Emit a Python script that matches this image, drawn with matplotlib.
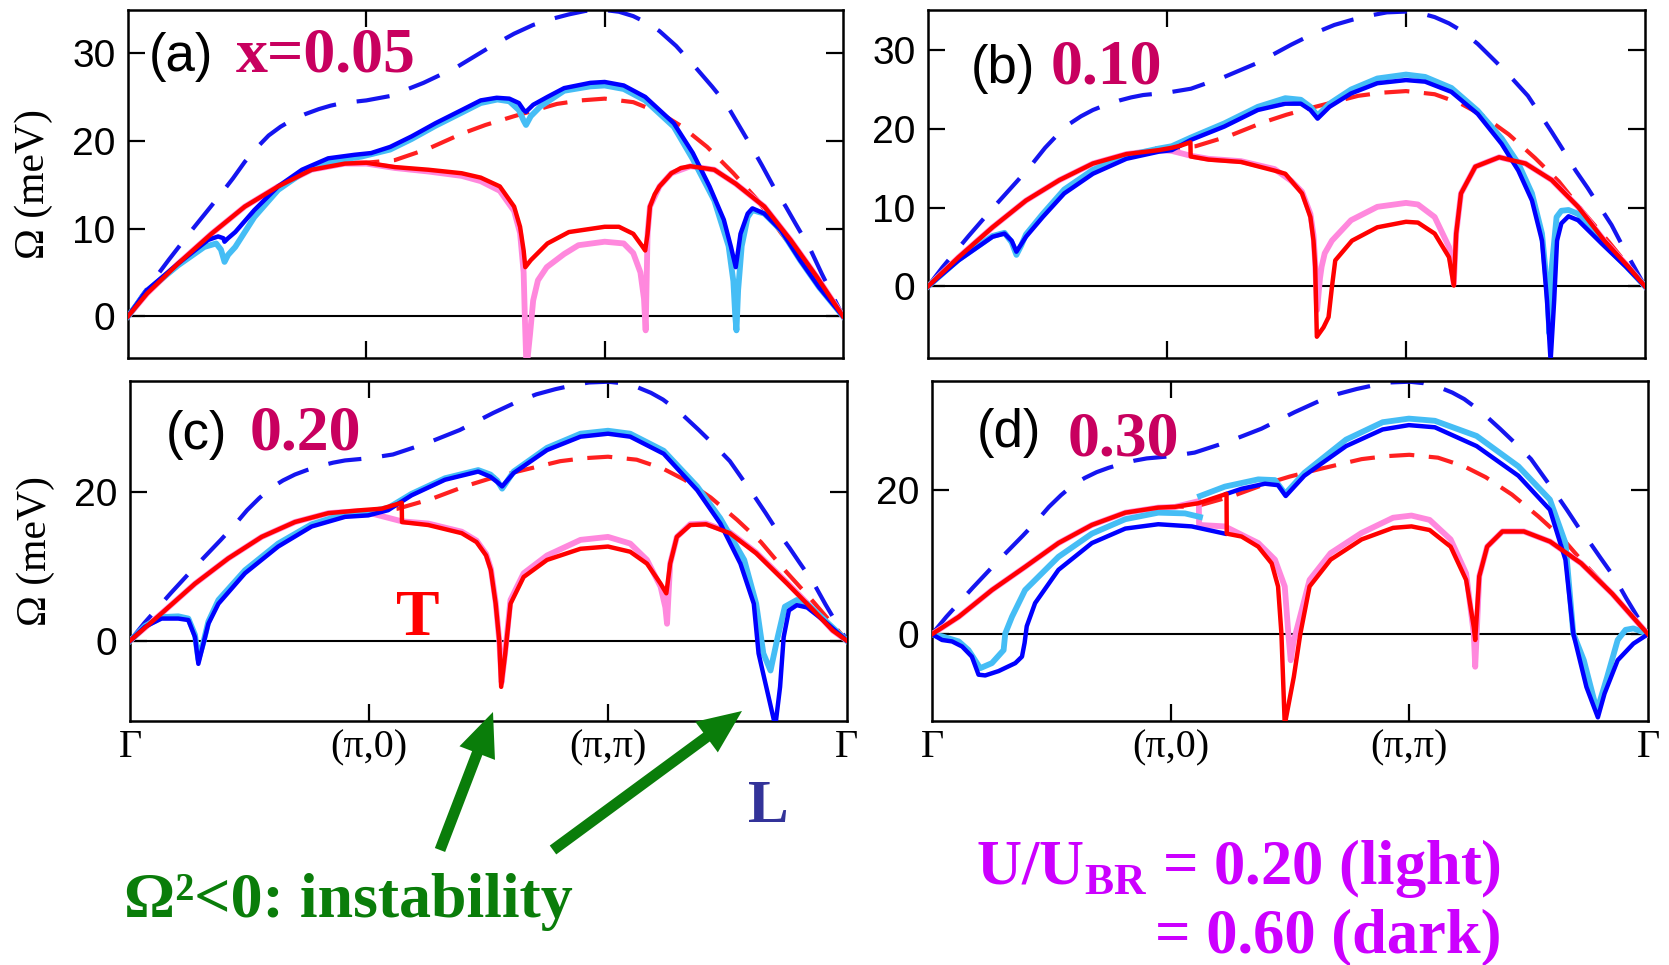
import numpy as np
import matplotlib
matplotlib.use("Agg")
import matplotlib.pyplot as plt
from matplotlib.patches import FancyArrow
from matplotlib.transforms import IdentityTransform

plt.rcParams['font.family'] = ['Liberation Sans', 'DejaVu Sans']

# path Gamma -> (pi,0) -> (pi,pi) -> Gamma, one unit per leg
q_ticks = [0, 1, 2, 3]
q_labels = ['Γ', '(π,0)', '(π,π)', 'Γ']

# bare dispersions (dashed), the same in every panel
bare_L_q = [0, 0.06, 0.17, 0.27, 0.38, 0.44, 0.49, 0.54, 0.59, 0.64, 0.69, 0.74, 0.80, 0.85, 0.90,
            1.0, 1.10, 1.24, 1.38, 1.52, 1.62, 1.70, 1.78, 1.85, 1.92, 2.0, 2.06, 2.12, 2.18,
            2.23, 2.30, 2.38, 2.45, 2.51, 2.56, 2.61, 2.66, 2.71, 2.76, 2.80, 2.86, 2.91, 3.0]
bare_L_w = [0, 2.4, 6.4, 9.9, 13.6, 15.7, 17.6, 19.2, 20.6, 21.6, 22.4, 23.0, 23.6, 24.0, 24.3,
            24.6, 25.1, 26.6, 28.4, 30.7, 32.2, 33.2, 33.9, 34.4, 34.8, 34.9, 34.7, 34.2, 33.4,
            32.5, 30.8, 28.4, 26.2, 24.2, 21.9, 19.6, 17.2, 14.7, 12.5, 10.6, 7.8, 4.9, 0]
bare_T_q = [0.95, 1.0, 1.12, 1.26, 1.40, 1.50, 1.62, 1.80, 1.90, 2.0, 2.12, 2.23, 2.32, 2.43, 2.54,
            2.64, 2.74, 2.85, 2.93, 3.0]
bare_T_w = [17.5, 17.5, 17.8, 19.1, 20.8, 21.8, 22.8, 24.2, 24.6, 24.8, 24.4, 23.2, 21.7, 19.3, 16.3,
            13.3, 9.5, 5.6, 2.6, 0]

# (a) x = 0.05
a_T_dark_q = [0, 0.08, 0.21, 0.35, 0.49, 0.63, 0.77, 0.91, 1.0, 1.12, 1.26, 1.40, 1.48, 1.56, 1.62,
              1.645, 1.66, 1.667, 1.69, 1.76, 1.85, 2.0, 2.06, 2.12, 2.16, 2.17, 2.18, 2.19, 2.21,
              2.23, 2.28, 2.32, 2.36, 2.46, 2.55, 2.67, 2.78, 2.89, 3.0]
a_T_dark_w = [0, 2.6, 6.0, 9.4, 12.5, 14.8, 16.7, 17.4, 17.5, 17.0, 16.7, 16.3, 15.8, 14.8, 12.5,
              10.2, 7.5, 5.6, 6.4, 8.3, 9.6, 10.2, 10.2, 9.4, 7.9, 7.5, 9.4, 12.5, 13.9,
              14.8, 16.3, 16.9, 17.1, 16.7, 15.1, 12.5, 8.7, 4.5, 0]
a_T_light_q = [0, 0.08, 0.21, 0.35, 0.49, 0.63, 0.77, 0.91, 1.0, 1.12, 1.26, 1.40, 1.48, 1.56, 1.62,
               1.645, 1.66, 1.665, 1.672, 1.687, 1.70, 1.72, 1.757, 1.83, 1.89, 2.0, 2.08, 2.12,
               2.15, 2.165, 2.172, 2.18, 2.19, 2.23, 2.28, 2.36, 2.46, 2.55, 2.67, 2.78, 2.89, 3.0]
a_T_light_w = [0, 2.6, 6.0, 9.4, 12.5, 14.8, 16.7, 17.4, 17.4, 16.9, 16.5, 16.0, 15.4, 14.3, 12.0,
               9.5, 5.0, 0.0, -6.0, -2.0, 1.8, 4.1, 5.6, 7.1, 8.1, 8.5, 8.3, 7.2,
               5.0, 2.0, -1.6, 9.4, 12.5, 14.8, 16.3, 17.1, 16.7, 15.1, 12.5, 8.7, 4.5, 0]
a_L_dark_q = [0, 0.08, 0.21, 0.336, 0.378, 0.40, 0.405, 0.42, 0.45, 0.53, 0.63, 0.73, 0.84, 0.95,
              1.02, 1.10, 1.19, 1.29, 1.40, 1.48, 1.547, 1.60, 1.64, 1.66, 1.67, 1.70, 1.76, 1.83,
              1.94, 2.0, 2.08, 2.17, 2.29, 2.37, 2.44, 2.50, 2.53, 2.55, 2.57, 2.60, 2.62, 2.67,
              2.74, 2.82, 2.90, 3.0]
a_L_dark_w = [0, 3.0, 6.0, 8.7, 9.1, 8.9, 8.5, 8.9, 9.6, 12.1, 14.8, 16.7, 18.0, 18.4,
              18.6, 19.3, 20.5, 22.0, 23.5, 24.6, 24.9, 24.8, 24.3, 23.5, 23.3, 24.1, 25.0, 26.0,
              26.6, 26.7, 26.3, 25.0, 22.0, 18.6, 14.8, 11.0, 7.9, 5.6, 9.4, 11.7, 12.3, 11.7,
              9.8, 6.4, 3.3, 0]
a_L_light_q = [0, 0.08, 0.21, 0.32, 0.37, 0.39, 0.405, 0.42, 0.45, 0.53, 0.63, 0.73, 0.84, 0.98,
               1.10, 1.19, 1.29, 1.40, 1.48, 1.55, 1.60, 1.64, 1.66, 1.67, 1.69, 1.73, 1.83, 1.94,
               2.0, 2.08, 2.17, 2.29, 2.37, 2.46, 2.52, 2.54, 2.548, 2.553, 2.56, 2.575, 2.60,
               2.62, 2.67, 2.74, 2.82, 2.90, 3.0]
a_L_light_w = [0, 2.9, 5.8, 7.9, 8.3, 7.6, 6.2, 7.0, 7.9, 11.3, 14.4, 16.3, 17.6, 18.2,
               19.0, 20.2, 21.7, 23.2, 24.3, 24.7, 24.5, 23.5, 22.3, 21.8, 22.8, 23.9, 25.7, 26.2,
               26.3, 25.9, 24.6, 21.6, 17.9, 13.2, 8.0, 4.0, 0.0, -1.6, 3.0, 8.0, 11.3,
               12.1, 11.7, 9.8, 6.4, 3.3, 0]

# (b) x = 0.10
b_T_dark_q = [0, 0.128, 0.27, 0.41, 0.55, 0.69, 0.83, 0.965, 1.02, 1.06, 1.098, 1.099, 1.174, 1.31,
              1.45, 1.495, 1.565, 1.60, 1.613, 1.62, 1.627, 1.655, 1.676, 1.69, 1.704, 1.774, 1.88,
              2.0, 2.05, 2.12, 2.18, 2.20, 2.21, 2.23, 2.29, 2.39, 2.50, 2.61, 2.72, 2.83, 2.93, 3.0]
b_T_dark_w = [0, 3.7, 7.5, 10.9, 13.5, 15.6, 16.8, 17.3, 17.6, 17.9, 18.3, 16.5, 16.1, 15.8,
              14.7, 14.3, 11.8, 8.8, 5.8, 2.5, -6.4, -5.2, -3.9, -0.1, 3.3, 5.8, 7.5,
              8.2, 8.1, 6.7, 3.7, 0.1, 6.7, 11.8, 15.2, 16.4, 15.6, 13.5, 10.1, 5.8, 2.5, 0]
b_T_light_q = [0, 0.128, 0.27, 0.41, 0.55, 0.69, 0.83, 0.965, 1.02, 1.06, 1.098, 1.174, 1.31, 1.45,
               1.52, 1.565, 1.60, 1.613, 1.62, 1.628, 1.64, 1.647, 1.66, 1.69, 1.77, 1.88, 2.0,
               2.05, 2.12, 2.18, 2.20, 2.21, 2.23, 2.29, 2.39, 2.50, 2.61, 2.72, 2.83, 2.93, 3.0]
b_T_light_w = [0, 3.7, 7.5, 10.9, 13.5, 15.6, 16.8, 17.3, 17.2, 16.9, 16.6, 16.2, 15.9, 14.9,
               13.4, 12.0, 9.2, 6.5, 3.0, -3.0, 1.0, 2.5, 4.2, 5.8, 8.4, 10.1, 10.6,
               10.4, 8.8, 5.0, 0.3, 6.7, 11.8, 15.2, 16.4, 15.6, 13.5, 10.1, 5.8, 2.5, 0]
b_L_dark_q = [0, 0.128, 0.27, 0.32, 0.35, 0.37, 0.41, 0.48, 0.57, 0.69, 0.83, 0.965, 1.02, 1.10,
              1.24, 1.38, 1.495, 1.56, 1.60, 1.63, 1.68, 1.77, 1.88, 2.0, 2.08, 2.19, 2.30, 2.40,
              2.47, 2.527, 2.569, 2.59, 2.605, 2.62, 2.632, 2.65, 2.68, 2.72, 2.82, 2.92, 3.0]
b_L_dark_w = [0, 3.3, 6.3, 6.7, 5.8, 4.4, 6.3, 8.8, 11.8, 14.3, 16.2, 17.1, 17.3, 18.6,
              20.3, 22.4, 23.2, 23.2, 22.4, 21.3, 22.8, 24.5, 25.8, 26.2, 26.0, 24.7, 21.9, 18.1,
              14.7, 10.9, 5.8, -1.8, -9.5, -1.8, 5.8, 8.0, 8.9, 8.4, 5.4, 2.5, 0]
b_L_light_q = [0, 0.128, 0.27, 0.32, 0.35, 0.37, 0.39, 0.41, 0.48, 0.57, 0.69, 0.83, 0.965, 1.02,
               1.10, 1.24, 1.38, 1.495, 1.56, 1.60, 1.63, 1.68, 1.77, 1.88, 2.0, 2.08, 2.19, 2.30,
               2.40, 2.47, 2.527, 2.569, 2.59, 2.60, 2.61, 2.63, 2.65, 2.68, 2.72, 2.82, 2.92, 3.0]
b_L_light_w = [0, 3.4, 6.4, 6.8, 5.6, 4.0, 5.2, 6.6, 9.2, 12.3, 14.8, 16.6, 17.5, 17.8,
               18.9, 20.7, 22.8, 23.9, 23.7, 22.8, 21.7, 23.2, 25.0, 26.4, 26.9, 26.6, 25.2, 22.3,
               18.8, 15.6, 11.8, 6.7, 0.0, -6.0, 2.5, 8.8, 9.6, 9.7, 9.2, 5.6, 2.6, 0]

# (c) x = 0.20
c_T_dark_q = [0, 0.132, 0.272, 0.411, 0.551, 0.69, 0.83, 0.969, 1.053, 1.137, 1.138, 1.248, 1.388,
              1.45, 1.49, 1.51, 1.53, 1.545, 1.553, 1.57, 1.592, 1.647, 1.745, 1.885, 2.0, 2.093,
              2.163, 2.22, 2.244, 2.26, 2.288, 2.344, 2.41, 2.51, 2.62, 2.75, 2.86, 2.94, 3.0]
c_T_dark_w = [0, 3.7, 7.7, 11.1, 14.0, 16.0, 17.2, 17.6, 17.8, 18.6, 16.0, 15.6, 14.5,
              13.3, 11.5, 9.5, 5.0, 0.0, -6.2, -1.7, 5.0, 8.6, 10.9, 12.4, 12.7, 12.0,
              10.4, 7.7, 6.4, 10.4, 14.0, 15.6, 15.7, 14.5, 11.8, 7.7, 4.1, 1.4, 0]
c_T_light_q = [0, 0.132, 0.272, 0.411, 0.551, 0.69, 0.83, 0.969, 1.053, 1.137, 1.248, 1.388, 1.45,
               1.49, 1.51, 1.53, 1.545, 1.555, 1.57, 1.592, 1.647, 1.745, 1.885, 2.0, 2.093, 2.163,
               2.22, 2.24, 2.247, 2.26, 2.288, 2.344, 2.41, 2.51, 2.62, 2.75, 2.86, 2.94, 3.0]
c_T_light_w = [0, 3.7, 7.7, 11.1, 14.0, 16.0, 17.2, 17.5, 16.8, 16.1, 15.8, 14.7, 13.5,
               11.7, 9.7, 5.2, 0.0, -5.6, -1.5, 5.5, 9.1, 11.5, 13.6, 14.0, 13.1, 10.9,
               7.3, 4.5, 2.3, 10.4, 14.0, 15.7, 15.8, 14.6, 11.9, 7.8, 4.2, 1.4, 0]
c_L_dark_q = [0, 0.063, 0.132, 0.202, 0.244, 0.272, 0.286, 0.307, 0.328, 0.37, 0.481, 0.62, 0.76,
              0.90, 0.997, 1.08, 1.178, 1.318, 1.457, 1.508, 1.536, 1.557, 1.605, 1.745, 1.885,
              2.0, 2.093, 2.233, 2.373, 2.47, 2.554, 2.61, 2.63, 2.665, 2.70, 2.72, 2.735, 2.757,
              2.79, 2.833, 2.90, 3.0]
c_L_dark_w = [0, 1.9, 3.0, 3.0, 2.8, 0.5, -3.1, -0.4, 2.3, 5.0, 9.1, 12.7, 15.4,
              16.7, 16.9, 17.6, 19.6, 21.7, 22.8, 22.1, 21.4, 20.8, 22.6, 25.7, 27.5,
              27.9, 27.5, 25.2, 20.3, 15.8, 10.4, 5.0, -1.7, -6.6, -11.5, -6.2, 0.5, 4.1,
              4.8, 4.5, 2.8, 0]
c_L_light_q = [0, 0.063, 0.132, 0.202, 0.244, 0.272, 0.286, 0.307, 0.328, 0.37, 0.481, 0.62, 0.76,
               0.90, 0.997, 1.08, 1.178, 1.318, 1.457, 1.508, 1.536, 1.557, 1.605, 1.745, 1.885,
               2.0, 2.093, 2.233, 2.373, 2.47, 2.57, 2.62, 2.65, 2.68, 2.71, 2.74, 2.79, 2.833,
               2.90, 3.0]
c_L_light_w = [0, 2.0, 3.2, 3.3, 3.0, 0.8, -2.5, -0.2, 2.6, 5.5, 9.5, 13.1, 15.7,
               17.1, 17.4, 17.9, 19.8, 21.9, 23.0, 22.4, 21.6, 20.5, 22.8, 26.0, 27.9,
               28.3, 27.9, 25.6, 20.8, 16.5, 10.9, 5.0, -1.7, -4.0, 0.5, 4.6, 5.5, 5.0,
               3.0, 0]

# (d) x = 0.30 -- L branches are split where they hand over to T
d_T_dark_q = [0, 0.112, 0.251, 0.39, 0.53, 0.67, 0.81, 0.948, 1.018, 1.116, 1.234, 1.235, 1.297,
              1.367, 1.423, 1.45, 1.464, 1.478, 1.516, 1.543, 1.582, 1.67, 1.80, 1.932, 2.009,
              2.085, 2.173, 2.238, 2.27, 2.276, 2.293, 2.326, 2.39, 2.48, 2.59, 2.72, 2.85, 3.0]
d_T_dark_w = [0, 2.4, 6.1, 9.3, 12.6, 15.1, 16.8, 17.5, 17.6, 18.1, 19.4, 13.9, 13.5,
              12.1, 9.8, 6.6, 0.1, -12.5, -5.9, 0.0, 6.6, 10.3, 13.1, 14.7, 14.9,
              14.4, 12.1, 7.5, 1.0, -0.8, 8.0, 12.1, 14.2, 14.2, 12.8, 9.8, 5.6, 0]
d_T_light_q = [0, 0.112, 0.251, 0.39, 0.53, 0.67, 0.81, 0.948, 1.018, 1.118, 1.119, 1.227, 1.367,
               1.437, 1.478, 1.493, 1.503, 1.515, 1.538, 1.582, 1.67, 1.80, 1.932, 2.009, 2.085,
               2.173, 2.238, 2.27, 2.276, 2.293, 2.326, 2.39, 2.48, 2.59, 2.72, 2.85, 3.0]
d_T_light_w = [0, 2.4, 6.1, 9.3, 12.6, 15.1, 16.8, 17.5, 17.6, 18.4, 15.1, 14.9, 12.6,
               10.3, 6.6, 0.1, -3.6, -1.0, 1.9, 7.5, 11.2, 14.0, 16.1, 16.4, 15.8,
               13.1, 8.4, 0.1, -4.5, 8.0, 12.1, 14.2, 14.2, 12.8, 9.8, 5.6, 0]
d_L_dark_q = [0, 0.042, 0.084, 0.126, 0.167, 0.195, 0.223, 0.279, 0.349, 0.377, 0.388, 0.397,
              0.432, 0.53, 0.67, 0.81, 0.948, 1.088, 1.227, np.nan,
              1.234, 1.297, 1.395, 1.45, 1.482, 1.56, 1.735, 1.888, 1.998, 2.107, 2.282, 2.457,
              2.589, 2.654, 2.687, 2.742, 2.79, 2.818, 2.873, 2.939, 3.0]
d_L_dark_w = [0, -0.8, -1.0, -1.7, -3.1, -5.6, -5.7, -5.1, -4.0, -3.1, -1.2, 1.1,
              4.3, 8.9, 12.6, 14.6, 15.2, 14.9, 13.9, np.nan,
              19.4, 20.1, 20.8, 20.6, 19.1, 21.9, 26.0, 28.3, 28.9, 28.6, 26.0, 21.9,
              17.2, 10.3, 0.1, -7.3, -11.5, -8.2, -3.6, -1.3, 0]
d_L_light_q = [0, 0.042, 0.112, 0.153, 0.202, 0.251, 0.30, 0.307, 0.335, 0.39, 0.53, 0.67, 0.81,
               0.948, 1.06, 1.123, np.nan,
               1.123, 1.227, 1.367, 1.437, 1.48, 1.56, 1.735, 1.888, 1.998, 2.107, 2.282, 2.457,
               2.589, 2.654, 2.687, 2.731, 2.786, 2.829, 2.873, 2.906, 2.939, 3.0]
d_L_light_w = [0, -0.3, -1.0, -2.2, -4.7, -4.0, -2.2, 0.1, 2.4, 6.1, 10.7, 13.9, 15.9,
               16.8, 16.7, 16.2, np.nan,
               19.1, 20.4, 21.4, 21.3, 19.4, 22.3, 26.9, 29.3, 29.8, 29.5, 27.4, 23.2,
               18.6, 12.6, 0.1, -3.6, -10.6, -5.9, -0.8, 0.6, 0.8, 0]

panel_tags = ['(a)', '(b)', '(c)', '(d)']
doping_labels = ['x=0.05', '0.10', '0.20', '0.30']

# colours
c_L_dark = '#0000ff'
c_L_light = '#45bdf5'
c_T_dark = '#ff0000'
c_T_light = '#ff88dd'
c_doping = '#c8005f'

W, H = 1669, 965
fig = plt.figure(figsize=(W / 100, H / 100), dpi=100)


def frac(x0, y0, x1, y1):
    # pixel box (left, top, right, bottom) -> figure fraction rect
    return [x0 / W, 1 - y1 / H, (x1 - x0) / W, (y1 - y0) / H]


ax_a = fig.add_axes(frac(128, 10, 843, 358))
ax_b = fig.add_axes(frac(928, 10, 1645, 358))
ax_c = fig.add_axes(frac(130, 381, 847, 721))
ax_d = fig.add_axes(frac(932, 381, 1648, 721))

panels = [
    (ax_a, (-4.75, 34.9), [0, 10, 20, 30],
     (a_T_light_q, a_T_light_w), (a_L_light_q, a_L_light_w), (a_T_dark_q, a_T_dark_w), (a_L_dark_q, a_L_dark_w)),
    (ax_b, (-9.1, 35.1), [0, 10, 20, 30],
     (b_T_light_q, b_T_light_w), (b_L_light_q, b_L_light_w), (b_T_dark_q, b_T_dark_w), (b_L_dark_q, b_L_dark_w)),
    (ax_c, (-10.8, 35.0), [0, 20],
     (c_T_light_q, c_T_light_w), (c_L_light_q, c_L_light_w), (c_T_dark_q, c_T_dark_w), (c_L_dark_q, c_L_dark_w)),
    (ax_d, (-12.0, 35.0), [0, 20],
     (d_T_light_q, d_T_light_w), (d_L_light_q, d_L_light_w), (d_T_dark_q, d_T_dark_w), (d_L_dark_q, d_L_dark_w)),
]

for i, (ax, ylim, yticks, t_light, l_light, t_dark, l_dark) in enumerate(panels):
    ax.axhline(0, color='black', lw=1.5, zorder=1)
    ax.plot(bare_L_q, bare_L_w, color='#1515f0', lw=3.0, ls=(0, (8, 5)), zorder=2)
    ax.plot(bare_T_q, bare_T_w, color='#ff2020', lw=3.0, ls=(0, (6, 3.5)), zorder=2)
    ax.plot(*t_light, color=c_T_light, lw=4.2, zorder=3)
    ax.plot(*l_light, color=c_L_light, lw=4.2, zorder=3)
    ax.plot(*l_dark, color=c_L_dark, lw=3.2, zorder=4)
    ax.plot(*t_dark, color=c_T_dark, lw=3.2, zorder=5)

    ax.set_xlim(0, 3)
    ax.set_ylim(*ylim)
    ax.set_yticks(yticks)
    ax.set_xticks(q_ticks[1:3])
    ax.tick_params(direction='in', length=12.5, width=1.6, top=True, right=True,
                   labelsize=28, pad=9)
    for s in ax.spines.values():
        s.set_linewidth(1.8)
    if i < 2:
        ax.set_xticklabels([])
    else:
        ax.set_xticks(q_ticks)
        ax.set_xticklabels(q_labels, family='Liberation Serif', fontsize=29)
        ax.tick_params(axis='x', pad=6)
        for t in ax.xaxis.get_major_ticks()[::3]:
            t.tick1line.set_visible(False)
            t.tick2line.set_visible(False)

for ax in (ax_a, ax_c):
    ax.set_ylabel('Ω (meV)', family='Liberation Serif', fontsize=30)
    ax.yaxis.label.set_va('center')
    ax.yaxis.set_label_coords(-0.132, 0.5)

# panel tags and doping levels (pixel positions of left edge and baseline)
tag_pos = [(149, 71), (971, 83), (166, 449), (977, 447)]
dop_pos = [(236, 72), (1051, 83), (250, 449), (1068, 456)]
for tag, (tx, ty), lab, (dx, dy) in zip(panel_tags, tag_pos, doping_labels, dop_pos):
    fig.text(tx / W, 1 - ty / H, tag, fontsize=38, ha='left', va='baseline')
    fig.text(dx / W, 1 - dy / H, lab, family='Liberation Serif', weight='bold',
             fontsize=46, color=c_doping, ha='left', va='baseline')

ax_c.text(1.206, 0.8, 'T', family='Liberation Serif', weight='bold', fontsize=47,
          color='#ff0000', ha='center', va='baseline')
fig.text(768 / W, 1 - 822 / H, 'L', family='Liberation Serif', weight='bold', fontsize=44,
         color='#333399', ha='center', va='baseline')

# arrows pointing at the soft modes, tail -> head in pixels from the top-left
green = '#0a7d0a'
for (x0, y0), (x1, y1) in [((440, 850), (493, 712)), ((553, 850), (742, 711))]:
    fig.add_artist(FancyArrow(x0, H - y0, x1 - x0, y0 - y1, width=11, head_width=38,
                              head_length=44, length_includes_head=True, color=green,
                              lw=0, transform=IdentityTransform()))

fig.text(124 / W, 1 - 917 / H, 'Ω²<0: instability', family='Liberation Serif', weight='bold',
         fontsize=46, color=green, ha='left', va='baseline')

magenta = '#cc00ff'
fig.text(1501 / W, 1 - 884 / H, r'U/U$_\mathregular{BR}$ = 0.20 (light)', family='Liberation Serif',
         weight='bold', fontsize=45, color=magenta, ha='right', va='baseline')
fig.text(1501 / W, 1 - 952 / H, '= 0.60 (dark)', family='Liberation Serif',
         weight='bold', fontsize=45, color=magenta, ha='right', va='baseline')

fig.savefig('out.png', dpi=100)
